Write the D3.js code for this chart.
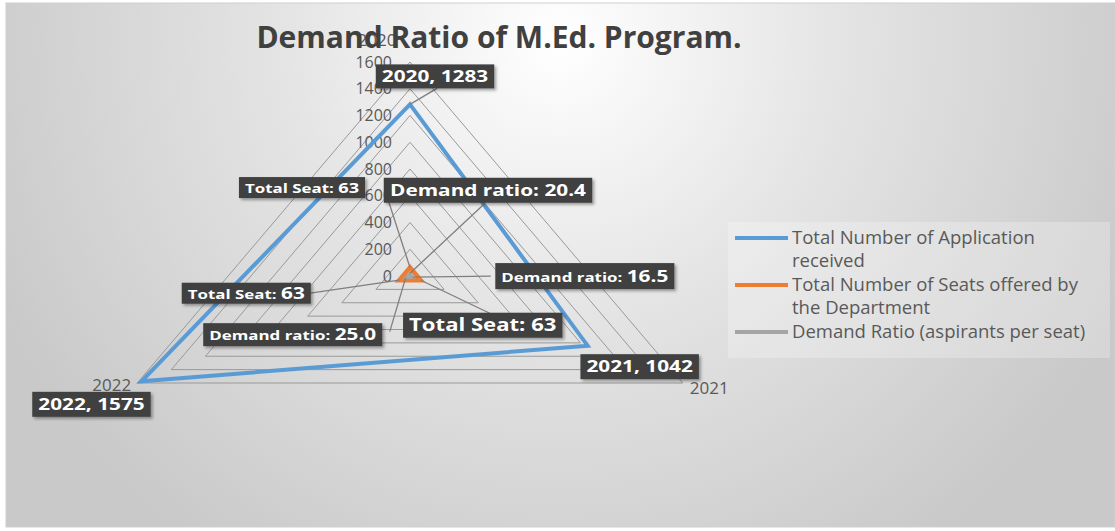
<!DOCTYPE html>
<html>
<head>
<meta charset="utf-8">
<script src="https://cdn.jsdelivr.net/npm/d3@7"></script>
<style>
  body { margin: 0; background: #fff; }
  svg { display: block; }
  text { font-family: "Open Sans", sans-serif; }
</style>
</head>
<body>
<div id="container"></div>
<script>
// chart data
var categories = ["2020", "2021", "2022"];
var applications = [1283, 1042, 1575];
var seats = [63, 63, 63];
var demandRatio = [20.4, 16.5, 25.0];
var radialTicks = [0, 200, 400, 600, 800, 1000, 1200, 1400, 1600];

var seriesNames = [
  ["Total Number of Application", "received"],
  ["Total Number of Seats offered by", "the Department"],
  ["Demand Ratio (aspirants per seat)"]
];
var seriesColors = ["#5b9bd5", "#ed7d31", "#a5a5a5"];

var width = 1115, height = 531;

// radar is stretched wider than tall, like the picture
var cx = 410, cy = 276, rx = 315, ry = 214;
// the label text in the picture is stretched sideways too
var sx = 1.3;

var svg = d3
  .select("#container")
  .append("svg")
  .attr("width", width)
  .attr("height", height);

var defs = svg.append("defs");
var grad = defs
  .append("radialGradient")
  .attr("id", "bg")
  .attr("gradientUnits", "userSpaceOnUse")
  .attr("cx", 560)
  .attr("cy", 40)
  .attr("r", 620);
grad.append("stop").attr("offset", "0%").attr("stop-color", "#ffffff");
grad.append("stop").attr("offset", "45%").attr("stop-color", "#e4e4e4");
grad.append("stop").attr("offset", "100%").attr("stop-color", "#c9c9c9");

var shadow = defs.append("filter").attr("id", "shadow").attr("x", "-20%").attr("y", "-30%").attr("width", "140%").attr("height", "170%");
shadow
  .append("feDropShadow")
  .attr("dx", 2)
  .attr("dy", 2)
  .attr("stdDeviation", 1.5)
  .attr("flood-color", "#000")
  .attr("flood-opacity", 0.35);

// chart area background
svg
  .append("rect")
  .attr("x", 6)
  .attr("y", 3)
  .attr("width", width - 6)
  .attr("height", height - 7)
  .attr("fill", "url(#bg)")
  .attr("stroke", "#d0d0d0")
  .attr("stroke-width", 1);

var r = d3.scaleLinear().domain([0, 1600]).range([0, 1]);
var angle = d3
  .scalePoint()
  .domain(categories)
  .range([0, (2 * Math.PI * 2) / 3]);

function pt(cat, v) {
  var a = angle(cat);
  return [cx + Math.sin(a) * r(v) * rx, cy - Math.cos(a) * r(v) * ry];
}

var g = svg.append("g");

// gridline triangles
radialTicks.slice(1).forEach(function (t) {
  g.append("path")
    .attr("d", d3.line()(categories.map(function (c) { return pt(c, t); })) + "Z")
    .attr("fill", "none")
    .attr("stroke", "#999999")
    .attr("stroke-width", 1);
});

// radial tick labels
g.selectAll(".tick")
  .data(radialTicks)
  .enter()
  .append("text")
  .attr("x", cx - 18)
  .attr("y", function (d) { return pt(categories[0], d)[1]; })
  .attr("dy", "0.35em")
  .attr("text-anchor", "end")
  .attr("font-size", 16)
  .attr("fill", "#595959")
  .text(function (d) { return d; });

// category labels
var catLabelPos = [
  { dx: -33, dy: -16, anchor: "middle" },
  { dx: 7, dy: 11, anchor: "start" },
  { dx: -6, dy: 8, anchor: "end" }
];
categories.forEach(function (c, i) {
  var p = pt(c, 1600);
  g.append("text")
    .attr("x", p[0] + catLabelPos[i].dx)
    .attr("y", p[1] + catLabelPos[i].dy)
    .attr("text-anchor", catLabelPos[i].anchor)
    .attr("font-size", 17)
    .attr("fill", "#595959")
    .text(c);
});

// series lines
var allSeries = [applications, seats, demandRatio];
var widths = [4, 4.5, 3];
allSeries.forEach(function (vals, s) {
  g.append("path")
    .attr("d", d3.line()(categories.map(function (c, i) { return pt(c, vals[i]); })) + "Z")
    .attr("fill", "none")
    .attr("stroke", seriesColors[s])
    .attr("stroke-width", widths[s])
    .attr("stroke-linejoin", "miter");
});

// data label layout: box centre offset from point, box height, leader end offset (or null)
var labelLayout = [
  [
    { dx: 25, dy: -28, h: 24, lead: [27, -16] },
    { dx: 52, dy: 21, h: 25, lead: null },
    { dx: -50, dy: 23, h: 25, lead: null }
  ],
  [
    { dx: -108, dy: -80, h: 21, lead: [-22, -68] },
    { dx: 62, dy: 45, h: 25, lead: [69, 33] },
    { dx: -153, dy: 13, h: 21, lead: [-89, 13] }
  ],
  [
    { dx: 78, dy: -83, h: 25, lead: [75, -70] },
    { dx: 172, dy: -1, h: 26, lead: [78, -1] },
    { dx: -113, dy: 57, h: 23, lead: [-16, 54] }
  ]
];

function labelParts(s, i) {
  if (s == 0) return [{ t: categories[i] + ", " + applications[i], size: 16 }];
  if (s == 1) {
    if (i == 1) return [{ t: "Total Seat: ", size: 17 }, { t: String(seats[i]), size: 17 }];
    if (i == 0) return [{ t: "Total Seat: ", size: 13 }, { t: String(seats[i]), size: 14 }];
    return [{ t: "Total Seat: ", size: 13 }, { t: String(seats[i]), size: 16 }];
  }
  if (i == 0) return [{ t: "Demand ratio: ", size: 16 }, { t: demandRatio[i].toFixed(1), size: 16 }];
  return [{ t: "Demand ratio: ", size: 13 }, { t: demandRatio[i].toFixed(1), size: 16 }];
}

var leaders = svg.append("g");
var labels = svg.append("g");

allSeries.forEach(function (vals, s) {
  categories.forEach(function (c, i) {
    var p = pt(c, vals[i]);
    var lay = labelLayout[s][i];
    var bx = p[0] + lay.dx, by = p[1] + lay.dy;
    if (lay.lead) {
      leaders
        .append("line")
        .attr("x1", p[0])
        .attr("y1", p[1])
        .attr("x2", p[0] + lay.lead[0])
        .attr("y2", p[1] + lay.lead[1])
        .attr("stroke", "#7f7f7f")
        .attr("stroke-width", 1.3);
    }
    var lg = labels.append("g");
    var rect = lg.append("rect").attr("fill", "#404040").attr("filter", "url(#shadow)");
    var txt = lg
      .append("text")
      .attr("transform", "translate(" + bx + "," + by + ") scale(" + sx + ",1)")
      .attr("dy", "0.36em")
      .attr("text-anchor", "middle")
      .attr("font-weight", "bold")
      .attr("fill", "#ffffff");
    labelParts(s, i).forEach(function (part) {
      txt.append("tspan").attr("font-size", part.size).text(part.t);
    });
    var w = txt.node().getBBox().width * sx + 12;
    rect
      .attr("x", bx - w / 2)
      .attr("y", by - lay.h / 2)
      .attr("width", w)
      .attr("height", lay.h);
  });
});

// title
svg
  .append("text")
  .attr("x", 499)
  .attr("y", 48)
  .attr("text-anchor", "middle")
  .attr("font-size", 30)
  .attr("font-weight", "bold")
  .attr("fill", "#404040")
  .text("Demand Ratio of M.Ed. Program.");

// legend
var legend = svg.append("g");
legend
  .append("rect")
  .attr("x", 728)
  .attr("y", 222)
  .attr("width", 382)
  .attr("height", 136)
  .attr("fill", "#ffffff")
  .attr("opacity", 0.25);
var legendY = [238, 285, 332];
seriesNames.forEach(function (lines, s) {
  legend
    .append("line")
    .attr("x1", 735)
    .attr("x2", 788)
    .attr("y1", legendY[s])
    .attr("y2", legendY[s])
    .attr("stroke", seriesColors[s])
    .attr("stroke-width", 4);
  lines.forEach(function (l, k) {
    legend
      .append("text")
      .attr("x", 792)
      .attr("y", legendY[s] + k * 23)
      .attr("dy", "0.35em")
      .attr("font-size", 18.5)
      .attr("fill", "#595959")
      .text(l);
  });
});
</script>
</body>
</html>
